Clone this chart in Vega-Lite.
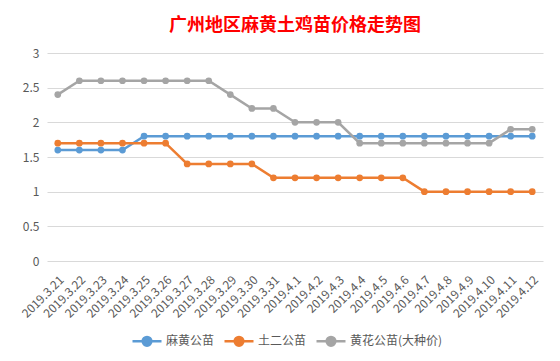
{
  "$schema": "https://vega.github.io/schema/vega-lite/v6.json",
  "width": 496,
  "height": 208,
  "autosize": {"type": "none"},
  "padding": {"left": 47, "top": 53, "right": 17, "bottom": 100},
  "background": "white",
  "title": {
    "text": "广州地区麻黄土鸡苗价格走势图",
    "color": "#ff0000",
    "font": "Noto Sans CJK SC",
    "fontSize": 18,
    "fontWeight": "bold",
    "anchor": "middle",
    "offset": 12
  },
  "config": {
    "view": {"stroke": null},
    "axis": {"labelFont": "Noto Sans CJK SC", "labelColor": "#595959", "labelFontSize": 12}
  },
  "data": {
    "values": [
      {"date": "2019.3.21", "series": "麻黄公苗", "price": 1.6},
      {"date": "2019.3.22", "series": "麻黄公苗", "price": 1.6},
      {"date": "2019.3.23", "series": "麻黄公苗", "price": 1.6},
      {"date": "2019.3.24", "series": "麻黄公苗", "price": 1.6},
      {"date": "2019.3.25", "series": "麻黄公苗", "price": 1.8},
      {"date": "2019.3.26", "series": "麻黄公苗", "price": 1.8},
      {"date": "2019.3.27", "series": "麻黄公苗", "price": 1.8},
      {"date": "2019.3.28", "series": "麻黄公苗", "price": 1.8},
      {"date": "2019.3.29", "series": "麻黄公苗", "price": 1.8},
      {"date": "2019.3.30", "series": "麻黄公苗", "price": 1.8},
      {"date": "2019.3.31", "series": "麻黄公苗", "price": 1.8},
      {"date": "2019.4.1", "series": "麻黄公苗", "price": 1.8},
      {"date": "2019.4.2", "series": "麻黄公苗", "price": 1.8},
      {"date": "2019.4.3", "series": "麻黄公苗", "price": 1.8},
      {"date": "2019.4.4", "series": "麻黄公苗", "price": 1.8},
      {"date": "2019.4.5", "series": "麻黄公苗", "price": 1.8},
      {"date": "2019.4.6", "series": "麻黄公苗", "price": 1.8},
      {"date": "2019.4.7", "series": "麻黄公苗", "price": 1.8},
      {"date": "2019.4.8", "series": "麻黄公苗", "price": 1.8},
      {"date": "2019.4.9", "series": "麻黄公苗", "price": 1.8},
      {"date": "2019.4.10", "series": "麻黄公苗", "price": 1.8},
      {"date": "2019.4.11", "series": "麻黄公苗", "price": 1.8},
      {"date": "2019.4.12", "series": "麻黄公苗", "price": 1.8},
      {"date": "2019.3.21", "series": "土二公苗", "price": 1.7},
      {"date": "2019.3.22", "series": "土二公苗", "price": 1.7},
      {"date": "2019.3.23", "series": "土二公苗", "price": 1.7},
      {"date": "2019.3.24", "series": "土二公苗", "price": 1.7},
      {"date": "2019.3.25", "series": "土二公苗", "price": 1.7},
      {"date": "2019.3.26", "series": "土二公苗", "price": 1.7},
      {"date": "2019.3.27", "series": "土二公苗", "price": 1.4},
      {"date": "2019.3.28", "series": "土二公苗", "price": 1.4},
      {"date": "2019.3.29", "series": "土二公苗", "price": 1.4},
      {"date": "2019.3.30", "series": "土二公苗", "price": 1.4},
      {"date": "2019.3.31", "series": "土二公苗", "price": 1.2},
      {"date": "2019.4.1", "series": "土二公苗", "price": 1.2},
      {"date": "2019.4.2", "series": "土二公苗", "price": 1.2},
      {"date": "2019.4.3", "series": "土二公苗", "price": 1.2},
      {"date": "2019.4.4", "series": "土二公苗", "price": 1.2},
      {"date": "2019.4.5", "series": "土二公苗", "price": 1.2},
      {"date": "2019.4.6", "series": "土二公苗", "price": 1.2},
      {"date": "2019.4.7", "series": "土二公苗", "price": 1.0},
      {"date": "2019.4.8", "series": "土二公苗", "price": 1.0},
      {"date": "2019.4.9", "series": "土二公苗", "price": 1.0},
      {"date": "2019.4.10", "series": "土二公苗", "price": 1.0},
      {"date": "2019.4.11", "series": "土二公苗", "price": 1.0},
      {"date": "2019.4.12", "series": "土二公苗", "price": 1.0},
      {"date": "2019.3.21", "series": "黄花公苗(大种价)", "price": 2.4},
      {"date": "2019.3.22", "series": "黄花公苗(大种价)", "price": 2.6},
      {"date": "2019.3.23", "series": "黄花公苗(大种价)", "price": 2.6},
      {"date": "2019.3.24", "series": "黄花公苗(大种价)", "price": 2.6},
      {"date": "2019.3.25", "series": "黄花公苗(大种价)", "price": 2.6},
      {"date": "2019.3.26", "series": "黄花公苗(大种价)", "price": 2.6},
      {"date": "2019.3.27", "series": "黄花公苗(大种价)", "price": 2.6},
      {"date": "2019.3.28", "series": "黄花公苗(大种价)", "price": 2.6},
      {"date": "2019.3.29", "series": "黄花公苗(大种价)", "price": 2.4},
      {"date": "2019.3.30", "series": "黄花公苗(大种价)", "price": 2.2},
      {"date": "2019.3.31", "series": "黄花公苗(大种价)", "price": 2.2},
      {"date": "2019.4.1", "series": "黄花公苗(大种价)", "price": 2.0},
      {"date": "2019.4.2", "series": "黄花公苗(大种价)", "price": 2.0},
      {"date": "2019.4.3", "series": "黄花公苗(大种价)", "price": 2.0},
      {"date": "2019.4.4", "series": "黄花公苗(大种价)", "price": 1.7},
      {"date": "2019.4.5", "series": "黄花公苗(大种价)", "price": 1.7},
      {"date": "2019.4.6", "series": "黄花公苗(大种价)", "price": 1.7},
      {"date": "2019.4.7", "series": "黄花公苗(大种价)", "price": 1.7},
      {"date": "2019.4.8", "series": "黄花公苗(大种价)", "price": 1.7},
      {"date": "2019.4.9", "series": "黄花公苗(大种价)", "price": 1.7},
      {"date": "2019.4.10", "series": "黄花公苗(大种价)", "price": 1.7},
      {"date": "2019.4.11", "series": "黄花公苗(大种价)", "price": 1.9},
      {"date": "2019.4.12", "series": "黄花公苗(大种价)", "price": 1.9}
    ]
  },
  "mark": {"type": "line", "strokeWidth": 2.5, "point": {"filled": true, "size": 45, "opacity": 1}},
  "encoding": {
    "x": {
      "field": "date",
      "type": "ordinal",
      "sort": null,
      "scale": {"type": "point", "padding": 0.5},
      "axis": {"title": null, "labelAngle": -45, "domain": false, "ticks": false, "labelPadding": 13}
    },
    "y": {
      "field": "price",
      "type": "quantitative",
      "scale": {"domain": [0, 3]},
      "axis": {"title": null, "values": [0, 0.5, 1, 1.5, 2, 2.5, 3], "format": "~g", "domain": false, "ticks": false, "gridColor": "#d9d9d9", "labelPadding": 8}
    },
    "color": {
      "field": "series",
      "type": "nominal",
      "scale": {"domain": ["麻黄公苗", "土二公苗", "黄花公苗(大种价)"], "range": ["#5b9bd5", "#ed7d31", "#a5a5a5"]},
      "legend": {
        "title": null,
        "orient": "none",
        "direction": "horizontal",
        "legendX": 84,
        "legendY": 272,
        "symbolType": "M-1,0L1,0M-0.3,0A0.3,0.3 0 1,1 0.3,0A0.3,0.3 0 1,1 -0.3,0Z",
        "symbolSize": 841,
        "symbolStrokeWidth": 2.5,
        "labelOffset": 3,
        "labelFont": "Noto Sans CJK SC",
        "labelFontSize": 12,
        "labelColor": "#595959",
        "columnPadding": 4
      }
    }
  }
}
